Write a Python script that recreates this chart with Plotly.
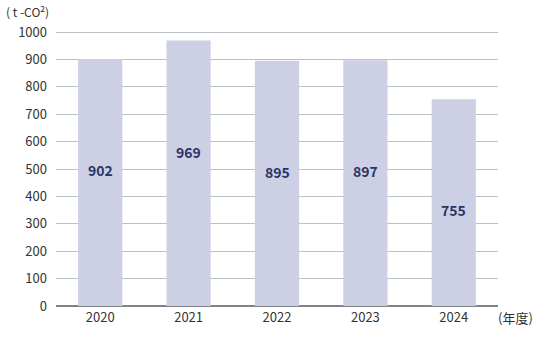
import plotly.graph_objects as go

years = ["2020", "2021", "2022", "2023", "2024"]
values = [902, 969, 895, 897, 755]
y_ticks = [0, 100, 200, 300, 400, 500, 600, 700, 800, 900, 1000]

FONT = "Noto Sans CJK JP"
xpos = [int(y) for y in years]

fig = go.Figure()
fig.add_trace(go.Bar(
    x=xpos, y=values, width=0.5,
    marker=dict(color="#cdd0e5", line=dict(width=0)),
    hoverinfo="skip",
))

for xp, v in zip(xpos, values):
    fig.add_annotation(x=xp, y=v - 405, text=f"<b>{v}</b>", showarrow=False,
                       font=dict(family=FONT, size=14, color="#2b3565"),
                       xref="x", yref="y")

fig.add_annotation(x=0, y=1, xref="paper", yref="paper", xshift=-52, yshift=20,
                   text="( t -CO<sup>2</sup>)", showarrow=False,
                   xanchor="left", yanchor="middle",
                   font=dict(family=FONT, size=12, color="#333333"))
fig.add_annotation(x=1, y=0, xref="paper", yref="paper", xshift=-2, yshift=-11,
                   text="(年度)", showarrow=False, xanchor="left", yanchor="middle",
                   font=dict(family=FONT, size=13, color="#333333"))

fig.update_layout(
    width=550, height=340,
    margin=dict(l=56, r=52, t=31, b=34),
    paper_bgcolor="white", plot_bgcolor="white",
    showlegend=False,
    font=dict(family=FONT, size=13, color="#333333"),
    xaxis=dict(type="linear", range=[xpos[0] - 0.5, xpos[-1] + 0.5],
               tickvals=xpos, ticktext=years,
               showgrid=False, showline=False, zeroline=False, ticks="",
               ticklabelstandoff=2, tickfont=dict(size=13)),
    yaxis=dict(range=[0, 1004], tickvals=y_ticks, showgrid=True,
               gridcolor="#b8c2c4", gridwidth=1, zeroline=True,
               zerolinecolor="#7f8487", zerolinewidth=2, ticks="",
               ticklabelstandoff=8, tickfont=dict(size=13)),
)

fig.write_html("out.html")
